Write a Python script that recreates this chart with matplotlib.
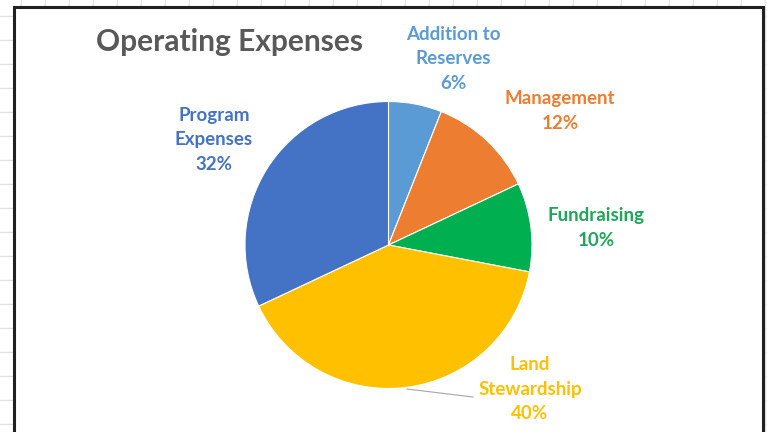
import matplotlib.pyplot as plt
from matplotlib.lines import Line2D
from matplotlib.patches import Rectangle

# Pie data, clockwise from 12 o'clock
names = ['Addition to\nReserves', 'Management', 'Fundraising',
         'Land\nStewardship', 'Program\nExpenses']
shares = [6, 12, 10, 40, 32]
colors = ['#5B9BD5', '#ED7D31', '#00B050', '#FFC000', '#4472C4']
label_colors = ['#5B9BD5', '#ED7D31', '#1FA65A', '#FFC000', '#4472C4']

# where Excel put the data labels (pixels, y from top)
label_pos = [(453, 59), (560, 111), (596, 228), (530, 389), (214, 140)]

W, H = 767, 432
fig = plt.figure(figsize=(W / 100, H / 100), dpi=100)
ax = fig.add_axes([0, 0, 1, 1])

# spreadsheet grid behind the chart
for x in range(21, W, 24):
    ax.add_line(Line2D([x, x], [0, H], color='#e2e2e2', lw=1, zorder=0))
for y in range(16, H, 24):
    ax.add_line(Line2D([0, W], [H - y, H - y], color='#e2e2e2', lw=1, zorder=0))

# chart area with dark frame
ax.add_patch(Rectangle((14, -10), 749, H - 7 + 10, facecolor='white',
                       edgecolor='#231f20', lw=2.2, zorder=1))

ax.pie(shares, colors=colors, startangle=90, counterclock=False,
       center=(388.5, H - 245), radius=143.5, frame=True,
       wedgeprops=dict(edgecolor='white', linewidth=0.8, zorder=2))
ax.set_xlim(0, W)
ax.set_ylim(0, H)
ax.set_aspect('auto')
ax.axis('off')

ax.text(230, H - 42, 'Operating Expenses', fontsize=21.5, fontweight='bold',
        color='#595959', family='Lato', ha='center', va='center', zorder=3)

for name, val, c, (x, y) in zip(names, shares, label_colors, label_pos):
    ax.text(x, H - y, name + '\n' + str(val) + '%', color=c, fontsize=13.5,
            fontweight='bold', family='Lato', ha='center', va='center',
            linespacing=1.55, zorder=3)

# leader line for Land Stewardship
ax.add_line(Line2D([407, 473], [H - 389, H - 397], color='#a6a6a6',
                   lw=0.8, zorder=3))

fig.savefig('out.png', dpi=100)
